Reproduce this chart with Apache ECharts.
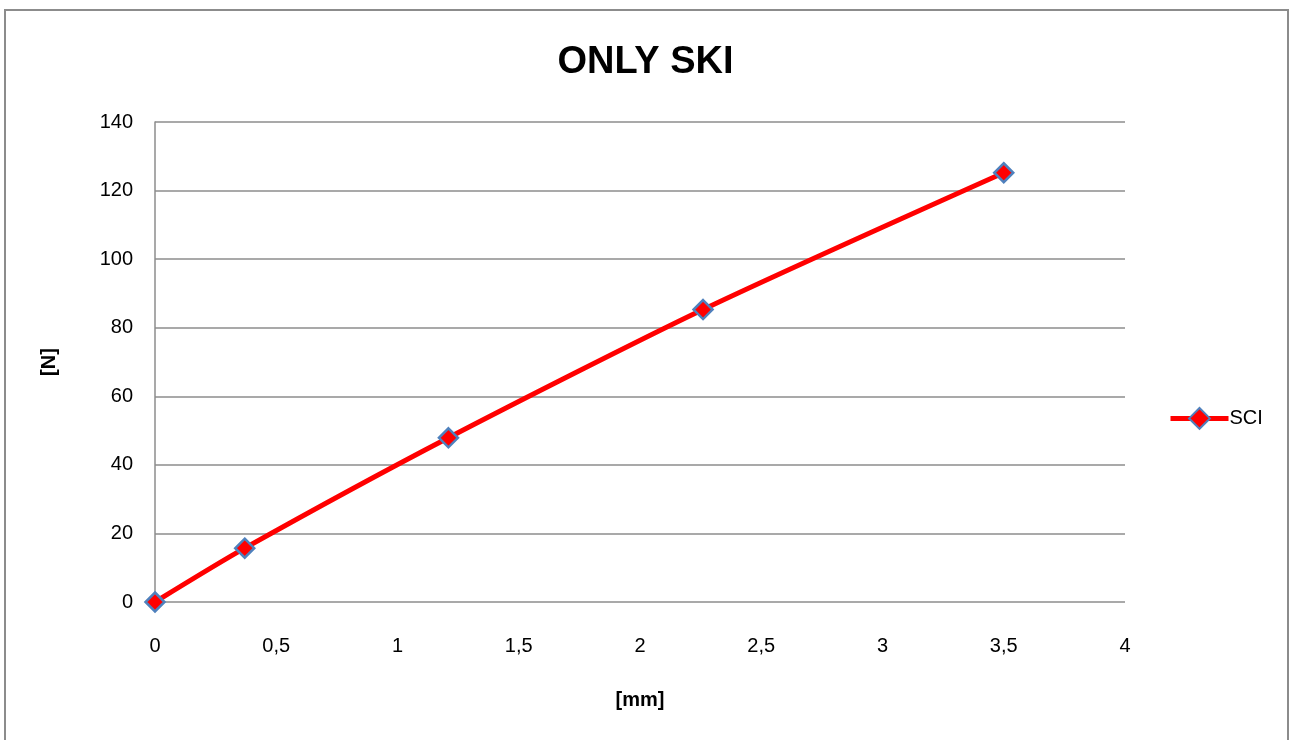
<!DOCTYPE html>
<html>
<head>
<meta charset="utf-8">
<style>
  html, body { margin: 0; padding: 0; background: #ffffff; }
  #chart { width: 1291px; height: 740px; }
</style>
<script src="https://cdn.jsdelivr.net/npm/echarts@6/dist/echarts.min.js"></script>
</head>
<body>
<div id="chart"></div>
<script>
// Displacement [mm] vs force [N]
const displacementMm = [0, 0.37, 1.21, 2.26, 3.5];
const forceN = [0, 15.7, 47.9, 85.3, 125.2];
const seriesName = 'SCI';
const chartTitle = 'ONLY SKI';

const FONT = '"Liberation Sans Narrow", "Liberation Sans", Arial, sans-serif';

const chart = echarts.init(document.getElementById('chart'), null, { renderer: 'canvas' });

chart.setOption({
  backgroundColor: '#ffffff',
  animation: false,
  graphic: [{
    type: 'rect',
    shape: { x: 5, y: 10, width: 1283, height: 745 },
    style: { fill: 'none', stroke: '#8c8c8c', lineWidth: 2 },
    silent: true
  }],
  title: {
    text: chartTitle,
    left: 'center',
    top: 39,
    textStyle: { fontFamily: FONT, fontSize: 38, fontWeight: 'bold', color: '#000' }
  },
  legend: {
    left: 1163,
    top: 402,
    itemWidth: 58,
    itemHeight: 26,
    itemGap: 4,
    lineStyle: { width: 5, color: '#ff0000' },
    textStyle: { fontFamily: FONT, fontSize: 20, color: '#000', padding: [0, 0, 0, -4] },
    data: [seriesName]
  },
  grid: { left: 155, right: 166, top: 122, bottom: 138 },
  xAxis: {
    type: 'value',
    min: 0, max: 4, interval: 0.5,
    name: '[mm]',
    nameLocation: 'middle',
    nameGap: 88,
    nameTextStyle: { fontFamily: FONT, fontSize: 20, fontWeight: 'bold', color: '#000' },
    axisLine: { show: false },
    axisTick: { show: false },
    splitLine: { show: false },
    axisLabel: {
      fontFamily: FONT, fontSize: 20, color: '#000', margin: 34,
      formatter: v => String(v).replace('.', ',')
    }
  },
  yAxis: {
    type: 'value',
    min: 0, max: 140, interval: 20,
    name: '[N]',
    nameLocation: 'middle',
    nameGap: 96,
    nameRotate: 90,
    nameTextStyle: { fontFamily: FONT, fontSize: 20, fontWeight: 'bold', color: '#000' },
    axisLine: { show: true, lineStyle: { color: '#8c8c8c', width: 1.5 } },
    axisTick: { show: false },
    splitLine: { show: true, lineStyle: { color: '#8c8c8c', width: 1.5 } },
    axisLabel: { fontFamily: FONT, fontSize: 20, color: '#000', margin: 22 }
  },
  series: [{
    name: seriesName,
    type: 'line',
    data: displacementMm.map((x, i) => [x, forceN[i]]),
    smooth: 0.25,
    symbol: 'diamond',
    symbolSize: 19,
    lineStyle: { color: '#ff0000', width: 5 },
    itemStyle: { color: '#ff0000', borderColor: '#4f81bd', borderWidth: 2.5 }
  }]
});
</script>
</body>
</html>
